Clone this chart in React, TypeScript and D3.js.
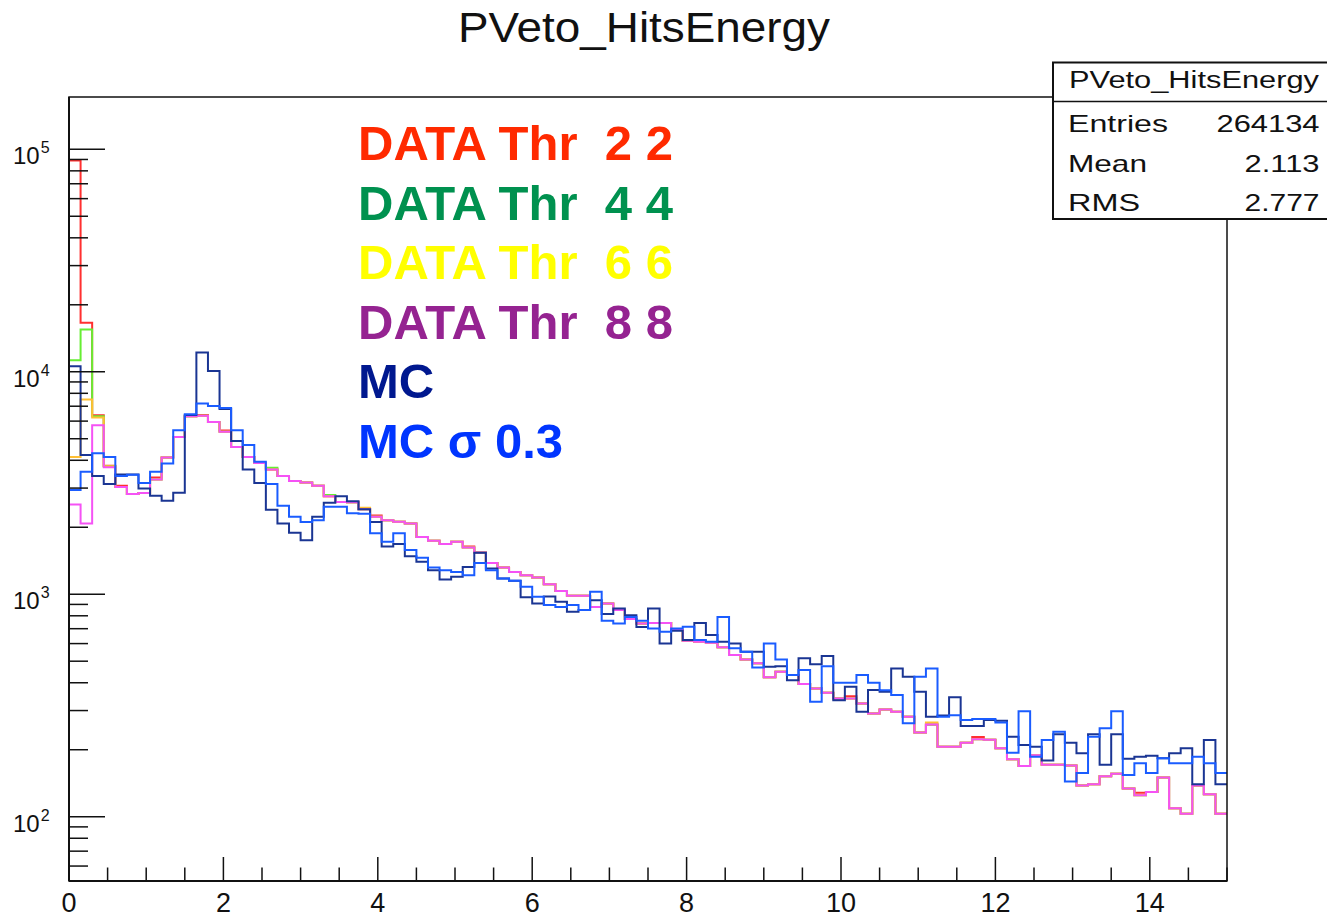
import React from "react";
import * as d3 from "d3";

// Histogram contents, 100 bins of width 0.15 between 0 and 15
const thr22 = [89000, 16600, 6380, 3780, 3070, 2820, 2850, 3350, 4120, 5090, 6310, 6400, 5940, 5450, 4590, 4140, 3890, 3640, 3400, 3230, 3180, 3070, 2760, 2600, 2590, 2410, 2260, 2150, 2120, 2080, 1810, 1740, 1680, 1720, 1640, 1540, 1380, 1320, 1260, 1218, 1190, 1110, 1035, 984, 984, 877, 909, 849, 773, 739, 743, 743, 690, 618, 611, 605, 577, 533, 509, 489, 423, 448, 433, 395, 377, 361, 340, 348, 323, 291, 303, 296, 281, 239, 260, 206, 206, 215, 228, 222, 203, 181, 169, 189, 171, 171, 170, 138, 140, 152, 156, 134, 128, 129, 150, 109, 103, 138, 126, 103];
const thr44 = [11270, 15500, 6310, 3760, 3030, 2820, 2850, 3280, 4120, 5090, 6310, 6350, 5940, 5370, 4590, 4140, 3890, 3700, 3400, 3230, 3180, 3070, 2790, 2600, 2590, 2410, 2230, 2150, 2120, 2080, 1810, 1740, 1680, 1720, 1620, 1540, 1380, 1320, 1260, 1218, 1190, 1110, 1035, 984, 984, 877, 909, 849, 773, 739, 743, 743, 690, 618, 611, 605, 577, 533, 509, 489, 423, 448, 433, 395, 377, 361, 340, 340, 323, 291, 303, 296, 281, 239, 260, 206, 206, 215, 223, 222, 203, 181, 169, 189, 171, 171, 170, 138, 140, 152, 156, 134, 125, 129, 150, 109, 103, 138, 126, 103];
const thr66 = [4140, 7500, 6230, 3760, 3030, 2820, 2850, 3280, 4120, 5090, 6310, 6350, 5940, 5370, 4590, 4140, 3890, 3640, 3400, 3230, 3180, 3070, 2760, 2600, 2590, 2450, 2230, 2150, 2120, 2080, 1810, 1740, 1680, 1720, 1620, 1540, 1380, 1320, 1260, 1218, 1190, 1110, 1035, 984, 984, 877, 909, 849, 773, 739, 743, 743, 690, 618, 611, 605, 577, 533, 509, 489, 423, 448, 433, 395, 377, 361, 340, 340, 323, 291, 303, 296, 281, 239, 265, 206, 206, 215, 223, 222, 203, 181, 169, 189, 171, 171, 170, 138, 140, 152, 156, 134, 125, 129, 150, 109, 103, 138, 126, 103];
const thr88 = [2530, 2080, 5750, 3720, 3030, 2820, 2850, 3280, 4120, 5090, 6310, 6350, 5940, 5370, 4590, 4140, 3890, 3640, 3400, 3230, 3180, 3070, 2760, 2600, 2590, 2410, 2230, 2150, 2120, 2080, 1810, 1740, 1680, 1720, 1620, 1540, 1380, 1320, 1260, 1218, 1190, 1110, 1035, 984, 984, 877, 909, 849, 773, 739, 743, 743, 690, 618, 611, 605, 577, 533, 509, 489, 423, 448, 433, 395, 377, 361, 340, 340, 323, 291, 303, 296, 281, 239, 260, 206, 206, 215, 223, 222, 203, 181, 169, 189, 171, 171, 170, 138, 140, 152, 156, 134, 125, 129, 150, 109, 103, 138, 126, 103];
const mc = [10600, 4220, 3400, 3130, 3450, 3450, 2990, 2770, 2630, 2860, 6400, 12190, 10090, 6800, 4890, 3640, 3160, 2400, 2080, 1890, 1750, 2230, 2580, 2760, 2620, 2410, 2110, 1640, 1680, 1480, 1400, 1283, 1165, 1197, 1327, 1535, 1305, 1178, 1150, 968, 909, 976, 925, 834, 849, 940, 815, 863, 805, 713, 863, 601, 685, 622, 743, 655, 611, 601, 551, 551, 472, 475, 411, 515, 485, 527, 334, 384, 296, 371, 364, 464, 426, 364, 281, 285, 344, 256, 256, 272, 270, 229, 210, 206, 179, 235, 215, 193, 235, 171, 235, 182, 186, 188, 183, 193, 203, 140, 221, 140];
const mcSigma = [2940, 3550, 4300, 4140, 3400, 3440, 3160, 3550, 3870, 5460, 6440, 7200, 7020, 6870, 5460, 4680, 3940, 3130, 2500, 2230, 2110, 2150, 2470, 2470, 2310, 2300, 1880, 1720, 1880, 1580, 1460, 1320, 1283, 1260, 1218, 1380, 1283, 1178, 1150, 1080, 973, 894, 877, 894, 849, 1025, 760, 739, 791, 760, 702, 678, 702, 714, 622, 611, 791, 571, 551, 469, 601, 509, 433, 456, 329, 475, 400, 400, 433, 400, 370, 352, 263, 426, 464, 281, 286, 272, 275, 275, 265, 194, 298, 186, 221, 241, 144, 157, 229, 250, 298, 154, 174, 157, 183, 174, 174, 186, 174, 157];

const legendLabels = ["DATA Thr  2 2", "DATA Thr  4 4", "DATA Thr  6 6", "DATA Thr  8 8", "MC", "MC \u03c3 0.3"];
const legendColors = ["#ff2a00", "#00914f", "#ffff00", "#952391", "#00188f", "#0035ff"];
const lineColors = ["#ff3030", "#66ee33", "#ffbf33", "#f552f5", "#1a3593", "#1a5cff"];
const seriesList = [thr22, thr44, thr66, thr88, mc, mcSigma];

const xTickLabels = ["0", "2", "4", "6", "8", "10", "12", "14"];
const yDecades = [2, 3, 4, 5];

const statsTitle = "PVeto_HitsEnergy";
const statsRows = [
  { name: "Entries", value: "264134" },
  { name: "Mean", value: "2.113" },
  { name: "RMS", value: "2.777" },
];

const W = 1327;
const H = 917;
const left = 69;
const right = 1227;
const top = 97;
const bottom = 881;
const font = "'Liberation Sans', Arial, Helvetica, sans-serif";

const x = d3.scaleLinear().domain([0, 15]).range([left, right]);
const y = d3.scaleLog().domain([51.4, 171800]).range([bottom, top]);

const nBins = 100;
const binWidth = 15 / nBins;

function stepPath(values: number[]): string {
  const pts: [number, number][] = values.map((v, i) => [i * binWidth, v]);
  pts.push([15, values[values.length - 1]]);
  const line = d3
    .line<[number, number]>()
    .x((d) => x(d[0]))
    .y((d) => y(d[1]))
    .curve(d3.curveStepAfter);
  return line(pts) || "";
}

export default function App() {
  const xMinor = d3.range(0, 15.001, 0.5);
  const yMinor: number[] = [];
  for (let e = 1; e <= 5; e++) {
    for (let m = 2; m <= 9; m++) {
      const v = m * Math.pow(10, e);
      if (v > 51.4 && v < 171800) yMinor.push(v);
    }
  }

  return (
    <div style={{ position: "fixed", left: 0, top: 0, width: W, height: H, background: "#fff" }}>
      <svg width={W} height={H} style={{ display: "block" }} fontFamily={font}>
        <rect x={0} y={0} width={W} height={H} fill="#fff" />
        <text x={644} y={42} fontSize={42} textAnchor="middle" fill="#111" textLength={372} lengthAdjust="spacingAndGlyphs">
          PVeto_HitsEnergy
        </text>

        <defs>
          <clipPath id="plotClip">
            <rect x={left} y={top} width={right - left} height={bottom - top} />
          </clipPath>
        </defs>

        <g clipPath="url(#plotClip)" fill="none" strokeWidth={2} strokeLinejoin="miter">
          {seriesList.map((s, k) => (
            <path key={k} d={stepPath(s)} stroke={lineColors[k]} />
          ))}
        </g>

        {/* frame */}
        <rect x={left} y={top} width={right - left} height={bottom - top} fill="none" stroke="#111" strokeWidth={1.5} />
        <line x1={left} x2={left} y1={top} y2={bottom} stroke="#111" strokeWidth={2} />
        <line x1={left} x2={right} y1={bottom} y2={bottom} stroke="#111" strokeWidth={2} />

        {/* x ticks */}
        {xMinor.map((t, i) => {
          const major = Math.abs(t / 2 - Math.round(t / 2)) < 1e-6;
          return (
            <line key={i} x1={x(t)} x2={x(t)} y1={bottom} y2={bottom - (major ? 24 : 13.5)} stroke="#111" strokeWidth={1.5} />
          );
        })}
        {xTickLabels.map((l) => (
          <text key={l} x={x(+l)} y={912} fontSize={27} textAnchor="middle" fill="#111">
            {l}
          </text>
        ))}

        {/* y ticks */}
        {yMinor.map((v, i) => (
          <line key={i} x1={left} x2={left + 19} y1={y(v)} y2={y(v)} stroke="#111" strokeWidth={1.5} />
        ))}
        {yDecades.map((e) => (
          <g key={e}>
            <line x1={left} x2={left + 36} y1={y(Math.pow(10, e))} y2={y(Math.pow(10, e))} stroke="#111" strokeWidth={1.5} />
            <text x={13} y={y(Math.pow(10, e)) + 15} fontSize={24} fill="#111">
              10
              <tspan dx={1} dy={-11} fontSize={16}>
                {e}
              </tspan>
            </text>
          </g>
        ))}

        {/* legend text */}
        {legendLabels.map((l, i) => (
          <text
            key={l}
            x={358}
            y={160 + i * 59.5}
            fontSize={49}
            fontWeight="bold"
            fill={legendColors[i]}
            style={{ whiteSpace: "pre" }}
          >
            {l}
          </text>
        ))}

        {/* stats box */}
        <g>
          <rect x={1053} y={62.5} width={290} height={156.5} fill="#fff" stroke="#111" strokeWidth={2} />
          <line x1={1053} x2={1340} y1={101.5} y2={101.5} stroke="#111" strokeWidth={1.5} />
          <text x={1069} y={87.5} fontSize={23} fill="#111" textLength={250} lengthAdjust="spacingAndGlyphs">
            {statsTitle}
          </text>
          {statsRows.map((r, i) => {
            const by = 132.3 + i * 39.5;
            const nameLen = [100, 79, 72][i];
            const valLen = [103, 75, 75][i];
            return (
              <g key={r.name}>
                <text x={1068} y={by} fontSize={24} fill="#111" textLength={nameLen} lengthAdjust="spacingAndGlyphs">
                  {r.name}
                </text>
                <text x={1319.5 - valLen} y={by} fontSize={24} fill="#111" textLength={valLen} lengthAdjust="spacingAndGlyphs">
                  {r.value}
                </text>
              </g>
            );
          })}
        </g>
      </svg>
    </div>
  );
}
